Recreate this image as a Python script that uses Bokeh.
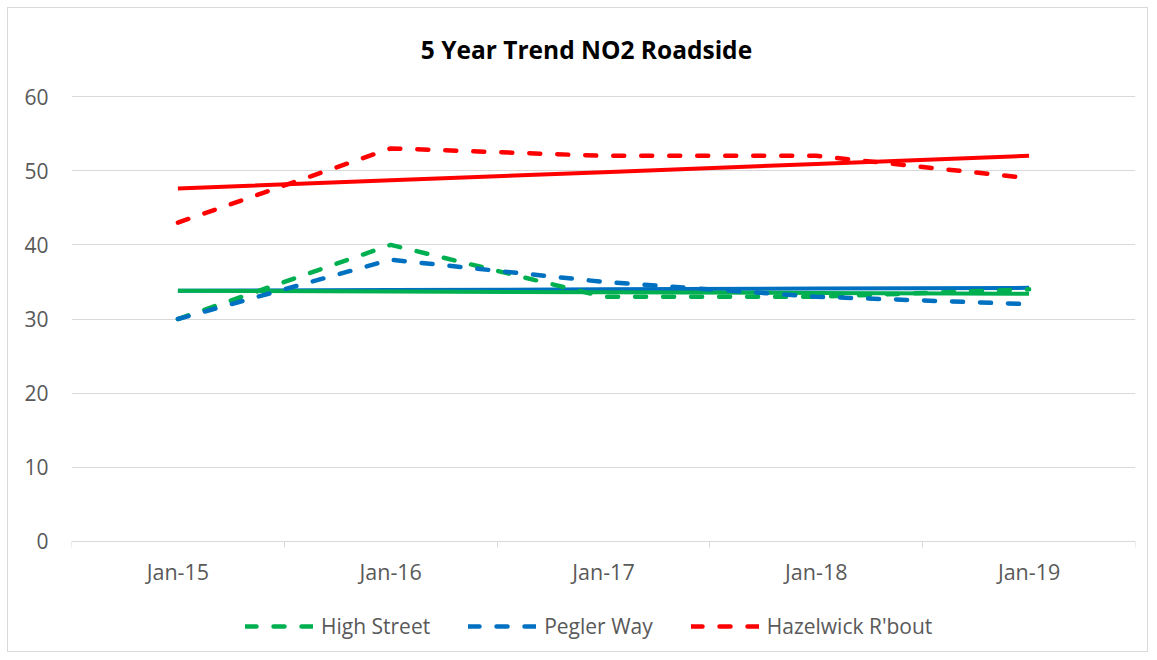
import numpy as np
from bokeh.plotting import figure
from bokeh.models import Range1d, FixedTicker, Legend, LegendItem, Label
from bokeh.embed import file_html
from bokeh.resources import INLINE

# ---- data ----
title_text = "5 Year Trend NO2 Roadside"
months = ["Jan-15", "Jan-16", "Jan-17", "Jan-18", "Jan-19"]
high_street = [30, 40, 33, 33, 34]
pegler_way = [30, 38, 35, 33, 32]
hazelwick = [43, 53, 52, 52, 49]
y_ticks = [0, 10, 20, 30, 40, 50, 60]

GREEN = "#00B050"
BLUE = "#0070C0"
RED = "#FF0000"
GRID = "#d9d9d9"
TXT = "#595959"
FONT = "Open Sans"

x = list(range(len(months)))

def trend(vals):
    k, b = np.polyfit(x, vals, 1)
    return [b + k * xi for xi in x]

# frame extends above/below the value axis so title and legend sit inside it
Y_BOTTOM = -14.43
Y_TOP = 71.6

p = figure(width=1141, height=645, output_backend="svg", toolbar_location=None,
           x_range=Range1d(-0.5, len(months) - 0.5), y_range=Range1d(Y_BOTTOM, Y_TOP),
           min_border_left=63, min_border_right=14, min_border_top=2, min_border_bottom=5,
           styles={"border": "1px solid #d9d9d9", "margin": "7px"})
p.outline_line_color = None
p.background_fill_color = "white"
p.border_fill_color = "white"

# title
p.add_layout(Label(x=1.92, y=66.4, text=title_text, text_font=FONT, text_font_size="24.5px",
                   text_font_style="bold", text_color="black",
                   text_align="center", text_baseline="middle"))

# axes
p.xaxis.fixed_location = 0
p.xaxis.ticker = FixedTicker(ticks=x, minor_ticks=[i - 0.5 for i in range(len(months) + 1)])
p.xaxis.major_label_overrides = {i: m for i, m in enumerate(months)}
p.xaxis.major_tick_line_color = None
p.xaxis.major_tick_out = 0
p.xaxis.major_tick_in = 0
p.xaxis.minor_tick_line_color = GRID
p.xaxis.minor_tick_out = 6
p.xaxis.minor_tick_in = 0
p.xaxis.axis_line_color = GRID
p.xaxis.axis_line_width = 1.2
p.xaxis.major_label_standoff = 10
p.xaxis.major_label_text_font = FONT
p.xaxis.major_label_text_font_size = "21.5px"
p.xaxis.major_label_text_color = TXT

p.yaxis.ticker = FixedTicker(ticks=y_ticks)
p.yaxis.axis_line_color = None
p.yaxis.major_tick_line_color = None
p.yaxis.minor_tick_line_color = None
p.yaxis.major_tick_out = 0
p.yaxis.major_label_standoff = 23
p.yaxis.major_label_text_font = FONT
p.yaxis.major_label_text_font_size = "21px"
p.yaxis.major_label_text_color = TXT

p.xgrid.grid_line_color = None
p.ygrid.grid_line_color = GRID
p.ygrid.grid_line_width = 1.2

# trend lines (solid); colours as in the reference chart
p.line(x, trend(high_street), line_color=BLUE, line_width=4)
p.line(x, trend(pegler_way), line_color=GREEN, line_width=4)
p.line(x, trend(hazelwick), line_color=RED, line_width=4)

dash = "11 17"
r1 = p.line(x, high_street, line_color=GREEN, line_width=4.5, line_dash=dash, line_cap="round")
r2 = p.line(x, pegler_way, line_color=BLUE, line_width=4.5, line_dash=dash, line_cap="round")
r3 = p.line(x, hazelwick, line_color=RED, line_width=4.5, line_dash=dash, line_cap="round")

legend = Legend(items=[LegendItem(label="High Street", renderers=[r1]),
                       LegendItem(label="Pegler Way", renderers=[r2]),
                       LegendItem(label="Hazelwick R'bout", renderers=[r3])],
                orientation="horizontal", location=(174, 8))
legend.glyph_width = 68
legend.glyph_height = 20
legend.label_standoff = 8
legend.spacing = 38
legend.label_text_font = FONT
legend.label_text_font_size = "21px"
legend.label_text_color = TXT
legend.border_line_color = None
legend.background_fill_alpha = 0
legend.margin = 0
legend.padding = 6
p.add_layout(legend, "center")

open("out.html", "w").write(file_html(p, INLINE))
